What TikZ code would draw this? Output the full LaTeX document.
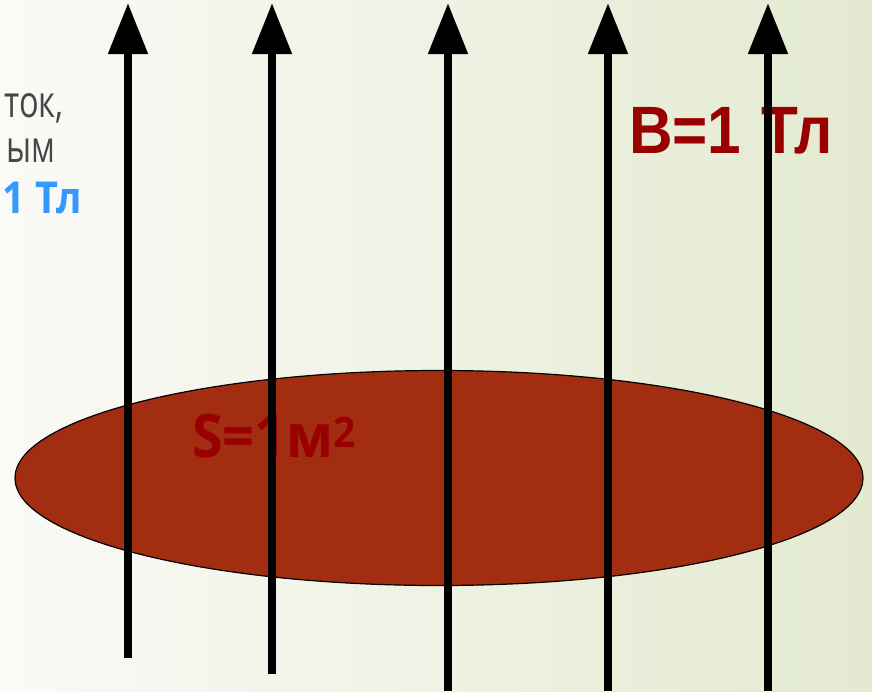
\documentclass[tikz,border=0pt]{standalone}
\usepackage{fontspec}
\setmainfont{Open Sans}
\newfontfamily\arialfont{Liberation Sans}
\usetikzlibrary{arrows.meta}

\definecolor{platered}{RGB}{163,45,17}
\definecolor{labelred}{RGB}{153,0,0}
\definecolor{textgray}{RGB}{70,70,70}
\definecolor{textblue}{RGB}{51,153,255}
\definecolor{bgleft}{RGB}{250,250,247}
\definecolor{bgright}{RGB}{227,234,208}

\begin{document}
\begin{tikzpicture}[x=1pt,y=-1pt,
			field/.style={line width=8pt,-{Triangle[width=38pt,length=51pt]}},
			plate/.style={fill=platered,draw=black,line width=1.2pt},
			side/.style={anchor=base east,inner sep=0pt,font=\fontsize{44}{44}\selectfont},
			big/.style={anchor=base west,inner sep=0pt,text=labelred}]
			
			% Background
			\useasboundingbox (0,0) rectangle (872,691);
			\shade[left color=bgleft,right color=bgright] (0,0) rectangle (872,691);
			
			% Text on the left
			\node[side,text=textgray] (line1) at (64,117) {\scalebox{0.74}[1]{ток,}};
			\node[side,text=textgray] (line2) at (56,162) {\scalebox{0.74}[1]{ым}};
			\node[side,text=textblue,font=\fontsize{44}{44}\selectfont\bfseries] (line3) at (82,213) {\scalebox{0.9}[1]{1 Тл}};
			
			% Surface
			\coordinate (centre) at (439,478);
			\draw[plate] (centre) ellipse (424 and 107.5);
			\node[big,font=\fontsize{60}{60}\selectfont\bfseries] (area) at (192,457) {\scalebox{0.93}[1]{S=1м\textsuperscript{2}}};
			
			% Induction label
			\node[big,font=\arialfont\fontsize{67}{67}\selectfont\bfseries] (induction) at (629,153) {\scalebox{0.9}[1]{B=1\hspace*{22pt}Тл}};
			
			% Field lines
			\coordinate (f1b) at (128,658); \coordinate (f1t) at (128,3);
			\coordinate (f2b) at (272,674); \coordinate (f2t) at (272,3);
			\coordinate (f3b) at (448,691); \coordinate (f3t) at (448,3);
			\coordinate (f4b) at (608,691); \coordinate (f4t) at (608,3);
			\coordinate (f5b) at (768,691); \coordinate (f5t) at (768,3);
			\draw[field] (f1b) -- (f1t);
			\draw[field] (f2b) -- (f2t);
			\draw[field] (f3b) -- (f3t);
			\draw[field] (f4b) -- (f4t);
			\draw[field] (f5b) -- (f5t);
			
		\end{tikzpicture}
\end{document}
